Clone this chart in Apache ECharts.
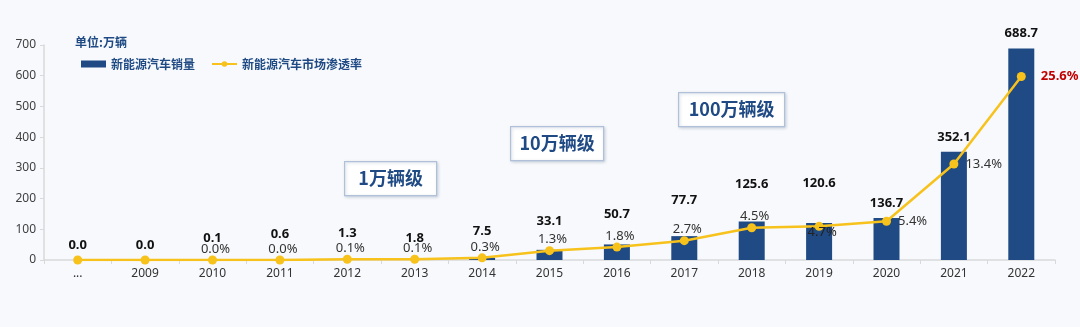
<!DOCTYPE html>
<html>
<head>
<meta charset="utf-8">
<script src="https://cdn.jsdelivr.net/npm/echarts@6/dist/echarts.min.js"></script>
<style>
html,body{margin:0;padding:0;background:#F7F9FC;}
#c{width:1080px;height:327px;}
</style>
</head>
<body>
<div id="c"></div>
<script>
const categories = ['...', '2009', '2010', '2011', '2012', '2013', '2014', '2015', '2016', '2017', '2018', '2019', '2020', '2021', '2022'];
const salesValues = [0.0, 0.0, 0.1, 0.6, 1.3, 1.8, 7.5, 33.1, 50.7, 77.7, 125.6, 120.6, 136.7, 352.1, 688.7];
const penetrationValues = [0, 0, 0.0, 0.0, 0.1, 0.1, 0.3, 1.3, 1.8, 2.7, 4.5, 4.7, 5.4, 13.4, 25.6];
const yTicks = [0, 100, 200, 300, 400, 500, 600, 700];
const seriesNames = ['新能源汽车销量', '新能源汽车市场渗透率'];
const unitText = '单位:万辆';
const tierLabels = ['1万辆级', '10万辆级', '100万辆级'];

// label styling per bar (kept separate from data)
const barLabelDist = [8, 8, 15, 19, 20, 15, 20, 22, 24, 29, 31, 33, 8, 8, 9];

const FONT = '"Noto Sans", "Noto Sans CJK SC", sans-serif';
const CJK = '"Noto Sans CJK SC", "Noto Sans", sans-serif';
const BLUE = '#1F4A84';
const YELLOW = '#F7C21B';

const barData = salesValues.map((v, i) => ({
  value: v,
  label: { distance: barLabelDist[i] }
}));

const lineData = penetrationValues.map((v, i) => {
  const item = { value: v };
  if (i < 2) item.label = { show: false };
  if (i === 11) item.label = { position: 'bottom', distance: -5, offset: [3, 0], color: '#222' };
  if (i === 12 || i === 13) item.label = { position: 'right', distance: 7, offset: [0, 0] };
  if (i === 14) item.label = { position: 'right', distance: 12, color: '#C00000', fontWeight: 'bold', fontSize: 13 };
  return item;
});

const chart = echarts.init(document.getElementById('c'), null, { renderer: 'canvas' });

function tierBox(x, y, w, h, text) {
  return {
    type: 'group',
    left: x, top: y,
    children: [
      { type: 'rect', shape: { x: 0, y: 0, width: w, height: h },
        style: { fill: '#FFFFFF', stroke: '#AFC0D8', lineWidth: 1.2,
                 shadowColor: 'rgba(80,100,140,0.25)', shadowBlur: 3, shadowOffsetX: 1, shadowOffsetY: 1 } },
      { type: 'text', x: w / 2, y: h / 2,
        style: { text: text, fill: BLUE, font: 'bold 18px ' + CJK, textAlign: 'center', textVerticalAlign: 'middle' } }
    ]
  };
}

chart.setOption({
  backgroundColor: '#F7F9FC',
  animation: false,
  textStyle: { fontFamily: FONT },
  grid: { left: 44, right: 25, top: 45, bottom: 67, containLabel: false },
  legend: {
    left: 76, top: 53,
    itemGap: 16,
    itemWidth: 25, itemHeight: 7,
    textStyle: { color: BLUE, fontWeight: 'bold', fontSize: 12, fontFamily: CJK },
    data: [
      { name: seriesNames[0], icon: 'rect' },
      { name: seriesNames[1] }
    ]
  },
  xAxis: {
    type: 'category',
    data: categories,
    axisLine: { lineStyle: { color: '#D9D9D9', width: 1.5 } },
    axisTick: { show: true, length: 4, lineStyle: { color: '#D9D9D9' } },
    axisLabel: { color: '#333', fontSize: 12, margin: 8 }
  },
  yAxis: [
    {
      type: 'value', min: 0, max: 700, interval: 100,
      axisLine: { show: true, lineStyle: { color: '#D9D9D9', width: 1.5 } },
      axisTick: { show: true, length: 4, inside: false, lineStyle: { color: '#D9D9D9' } },
      splitLine: { show: false },
      axisLabel: { color: '#404040', fontSize: 12, margin: 8,
        formatter: v => yTicks.includes(v) ? String(v) : '' }
    },
    {
      type: 'value', min: 0, max: 30, show: false, splitLine: { show: false }
    }
  ],
  graphic: [
    { type: 'text', left: 75, top: 36,
      style: { text: unitText, fill: BLUE, font: 'bold 12px ' + CJK } },
    tierBox(344, 161, 92, 34, tierLabels[0]),
    tierBox(510, 126, 93, 34, tierLabels[1]),
    tierBox(678, 92, 106, 34, tierLabels[2])
  ],
  series: [
    {
      name: seriesNames[0],
      type: 'bar',
      data: barData,
      barWidth: 26,
      itemStyle: { color: BLUE },
      label: {
        show: true, position: 'top',
        color: '#111', fontWeight: 'bold', fontSize: 13,
        formatter: p => p.value.toFixed(1)
      },
      z: 2
    },
    {
      name: seriesNames[1],
      type: 'line',
      yAxisIndex: 1,
      data: lineData,
      symbol: 'circle', symbolSize: 9,
      lineStyle: { color: YELLOW, width: 2.5 },
      itemStyle: { color: YELLOW },
      label: {
        show: true, position: 'top', distance: 0, offset: [3, 0],
        color: '#333', fontSize: 13,
        formatter: p => p.value.toFixed(1) + '%'
      },
      z: 3
    }
  ]
});
</script>
</body>
</html>
